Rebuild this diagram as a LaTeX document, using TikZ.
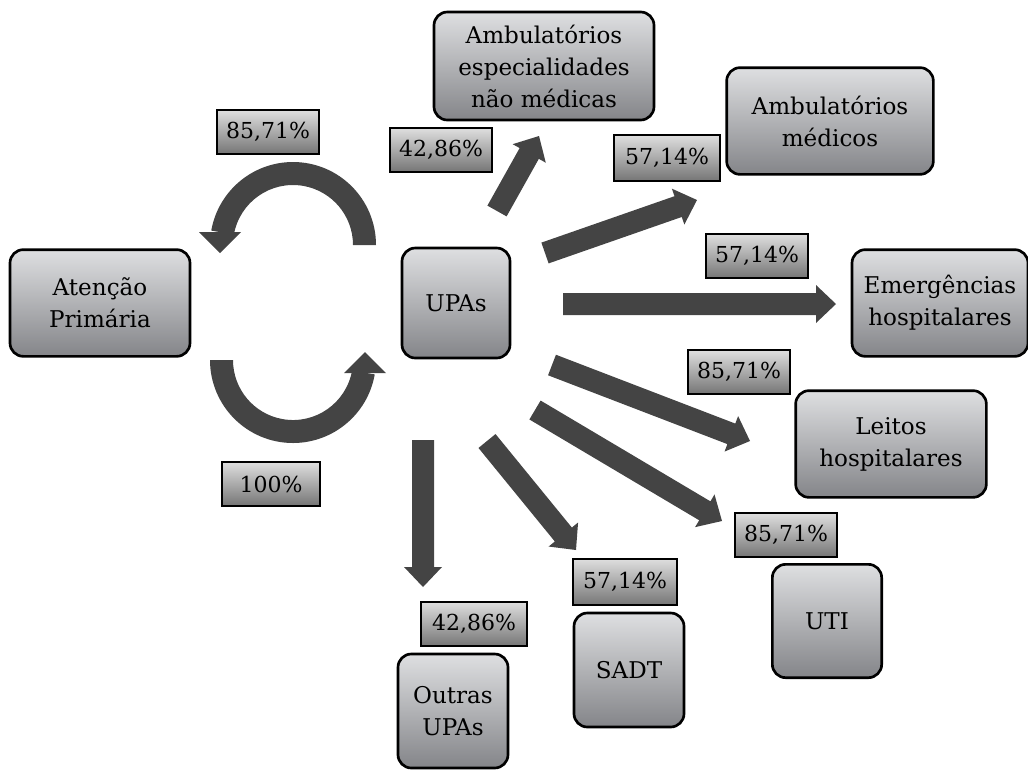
\documentclass[tikz,border=0pt]{standalone}
\usepackage{fontspec}
\setmainfont{DejaVu Serif}
\usetikzlibrary{calc}
\definecolor{arrowgray}{RGB}{68,68,68}
\definecolor{boxtop}{RGB}{222,223,225}
\definecolor{boxbot}{RGB}{132,133,137}
\definecolor{labtop}{RGB}{222,222,222}
\definecolor{labbot}{RGB}{118,118,118}
\newcommand{\blkarrow}[2]{%
 \fill[arrowgray] let \p1=(#1), \p2=(#2), \n1={atan2(\y2-\y1,\x2-\x1)},
   \n2={\n1+90}, \n3={\n1-90}, \n4={\n1+180} in
 ($(#1)+(\n2:8.25pt)$) -- ($(#2)+(\n4:15pt)+(\n2:8.25pt)$) -- ($(#2)+(\n4:15pt)+(\n2:14.25pt)$)
 -- (#2) -- ($(#2)+(\n4:15pt)+(\n3:14.25pt)$) -- ($(#2)+(\n4:15pt)+(\n3:8.25pt)$)
 -- ($(#1)+(\n3:8.25pt)$) -- cycle;}
\tikzset{
  box/.style={font=\fontsize{17.3}{24}\selectfont, draw=black, line width=2pt, rounded corners=10pt,
    top color=boxtop, bottom color=boxbot, align=center, inner sep=0pt},
  lab/.style={font=\fontsize{16.5}{24}\selectfont, draw=black, line width=1.6pt, top color=labtop,
    bottom color=labbot, inner sep=0pt, minimum width=77pt, minimum height=32.5pt}
}
\begin{document}
\begin{tikzpicture}[x=0.75pt,y=-0.75pt]
\useasboundingbox (0,0) rectangle (1028,769);
% boxes
\node[box, minimum width=135pt, minimum height=80pt] (aten) at (100,303) {Atenção\\Primária};
\node[box, minimum width=81pt, minimum height=82.5pt] (upas) at (456,303) {UPAs};
\node[box, minimum width=165pt, minimum height=81pt] (ambesp) at (544,66) {Ambulatórios\\especialidades\\não médicas};
\node[box, minimum width=155pt, minimum height=80pt] (ambmed) at (830,121) {Ambulatórios\\médicos};
\node[box, minimum width=132pt, minimum height=80pt] (emerg) at (940,303) {Emergências\\hospitalares};
\node[box, minimum width=143pt, minimum height=80pt] (leitos) at (891,444) {Leitos\\hospitalares};
\node[box, minimum width=82pt, minimum height=85pt] (uti) at (827,621) {UTI};
\node[box, minimum width=82.5pt, minimum height=85.5pt] (sadt) at (629,670) {SADT};
\node[box, minimum width=82.5pt, minimum height=85.5pt] (outras) at (453,711) {Outras\\UPAs};
% labels
\node[lab] (l1) at (268,132) {85,71\%};
\node[lab, minimum width=73pt] (l2) at (271,484) {100\%};
\node[lab] (l3) at (441,150) {42,86\%};
\node[lab, minimum width=79pt, minimum height=34pt] (l4) at (667,158) {57,14\%};
\node[lab] (l5) at (757,256) {57,14\%};
\node[lab] (l6) at (739,372) {85,71\%};
\node[lab] (l7) at (786,535) {85,71\%};
\node[lab, minimum width=78pt, minimum height=34.5pt] (l8) at (625,582) {57,14\%};
\node[lab, minimum width=79.5pt, minimum height=33pt] (l9) at (474,624) {42,86\%};
% curved arrows
\coordinate (c1) at (293,245);
\coordinate (c2) at (293,360);
\fill[arrowgray] ($(c1)+(0:62.25pt)$) arc[start angle=0,end angle=170,radius=62.25pt]
  -- ($(c1)+(170:45pt)$) arc[start angle=170,end angle=0,radius=45pt] -- cycle;
\fill[arrowgray] (199,232) -- (241,232) -- (220,253) -- cycle;
\fill[arrowgray] ($(c2)+(180:62.25pt)$) arc[start angle=180,end angle=350,radius=62.25pt]
  -- ($(c2)+(350:45pt)$) arc[start angle=350,end angle=180,radius=45pt] -- cycle;
\fill[arrowgray] (344,373) -- (386,373) -- (365,352) -- cycle;
% straight arrows
\coordinate (t1) at (497,211); \coordinate (h1) at (539,136);
\coordinate (t2) at (545,253); \coordinate (h2) at (697,200);
\coordinate (t3) at (563,304); \coordinate (h3) at (836,304);
\coordinate (t4) at (552,365); \coordinate (h4) at (750,441);
\coordinate (t5) at (535,410); \coordinate (h5) at (722,521);
\coordinate (t6) at (487,441); \coordinate (h6) at (576,550);
\coordinate (t7) at (423,440); \coordinate (h7) at (423,587);
\blkarrow{t1}{h1}
\blkarrow{t2}{h2}
\blkarrow{t3}{h3}
\blkarrow{t4}{h4}
\blkarrow{t5}{h5}
\blkarrow{t6}{h6}
\blkarrow{t7}{h7}
\end{tikzpicture}
\end{document}
